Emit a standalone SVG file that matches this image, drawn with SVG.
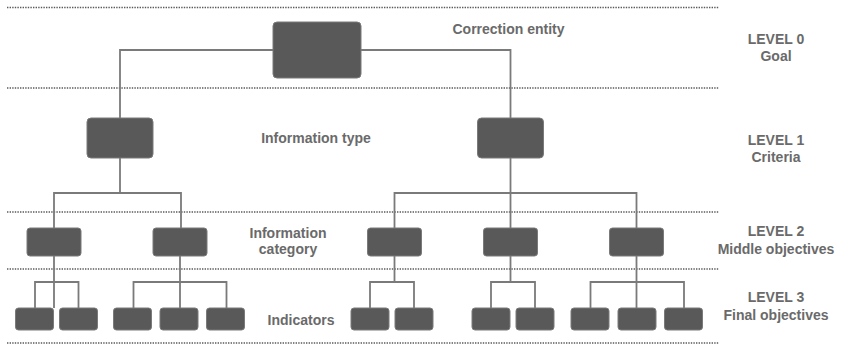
<svg xmlns="http://www.w3.org/2000/svg" width="841" height="344" viewBox="0 0 841 344">
  <style>
    .sep { stroke: #5a5a5a; stroke-width: 1.4; stroke-dasharray: 1.4 1.2; fill: none; }
    .box { fill: #595959; stroke: #7a7a7a; stroke-width: 1; }
    .wire { stroke: #7a7a7a; stroke-width: 1.8; fill: none; }
    .lbl { font-family: "Liberation Sans", Arial, sans-serif; font-size: 14px; font-weight: bold; fill: #6a6a6a; text-anchor: middle; }
  </style>

  <!-- level separators -->
  <g id="separators">
    <line class="sep" x1="7" y1="7.5" x2="719" y2="7.5"/>
    <line class="sep" x1="7" y1="88" x2="719" y2="88"/>
    <line class="sep" x1="7" y1="212" x2="719" y2="212"/>
    <line class="sep" x1="7" y1="269" x2="719" y2="269"/>
    <line class="sep" x1="7" y1="343" x2="719" y2="343"/>
  </g>

  <!-- tree connectors -->
  <g id="connectors">
    <path class="wire" d="M120,118 V50 H510.5 V118"/>
    <path class="wire" d="M120,158 V193"/>
    <path class="wire" d="M54,228 V193 H181 V228"/>
    <path class="wire" d="M510.5,158 V228"/>
    <path class="wire" d="M394.5,228 V193 H636.5 V228"/>
    <path class="wire" d="M54,256 V308 M35,308 V282 H78.5 V308"/>
    <path class="wire" d="M180,256 V308 M133.5,308 V282 H226.5 V308"/>
    <path class="wire" d="M394.5,256 V282 M370,308 V282 H414 V308"/>
    <path class="wire" d="M510.5,256 V282 M491,308 V282 H535 V308"/>
    <path class="wire" d="M636.5,256 V308 M590.5,308 V282 H684 V308"/>
  </g>

  <!-- level 0 -->
  <g id="goal"><rect class="box" x="273" y="22" width="88" height="56" rx="4"/></g>

  <!-- level 1 -->
  <g id="criterion-1"><rect class="box" x="87" y="118" width="66" height="40" rx="4"/></g>
  <g id="criterion-2"><rect class="box" x="477.5" y="118" width="66" height="40" rx="4"/></g>

  <!-- level 2 -->
  <g id="middle-1"><rect class="box" x="27" y="228" width="54" height="28" rx="3"/></g>
  <g id="middle-2"><rect class="box" x="153" y="228" width="54" height="28" rx="3"/></g>
  <g id="middle-3"><rect class="box" x="367.5" y="228" width="54" height="28" rx="3"/></g>
  <g id="middle-4"><rect class="box" x="483.5" y="228" width="54" height="28" rx="3"/></g>
  <g id="middle-5"><rect class="box" x="609.5" y="228" width="54" height="28" rx="3"/></g>

  <!-- level 3 -->
  <g id="final-1"><rect class="box" x="15.5" y="308" width="38" height="22" rx="3"/></g>
  <g id="final-2"><rect class="box" x="59.5" y="308" width="38" height="22" rx="3"/></g>
  <g id="final-3"><rect class="box" x="113.5" y="308" width="38" height="22" rx="3"/></g>
  <g id="final-4"><rect class="box" x="160" y="308" width="38" height="22" rx="3"/></g>
  <g id="final-5"><rect class="box" x="206.5" y="308" width="38" height="22" rx="3"/></g>
  <g id="final-6"><rect class="box" x="351" y="308" width="38" height="22" rx="3"/></g>
  <g id="final-7"><rect class="box" x="395" y="308" width="38" height="22" rx="3"/></g>
  <g id="final-8"><rect class="box" x="472" y="308" width="38" height="22" rx="3"/></g>
  <g id="final-9"><rect class="box" x="516" y="308" width="38" height="22" rx="3"/></g>
  <g id="final-10"><rect class="box" x="571" y="308" width="38" height="22" rx="3"/></g>
  <g id="final-11"><rect class="box" x="618" y="308" width="38" height="22" rx="3"/></g>
  <g id="final-12"><rect class="box" x="664.5" y="308" width="38" height="22" rx="3"/></g>

  <!-- row captions -->
  <g id="captions">
    <text class="lbl" x="508.5" y="34">Correction entity</text>
    <text class="lbl" x="316" y="143">Information type</text>
    <text class="lbl" x="288" y="237.5">Information</text>
    <text class="lbl" x="288" y="254">category</text>
    <text class="lbl" x="301" y="324.5">Indicators</text>
  </g>

  <!-- level names -->
  <g id="levels">
    <text class="lbl" x="776" y="43.5">LEVEL 0</text>
    <text class="lbl" x="776" y="61">Goal</text>
    <text class="lbl" x="776" y="144.5">LEVEL 1</text>
    <text class="lbl" x="776" y="162">Criteria</text>
    <text class="lbl" x="776" y="236">LEVEL 2</text>
    <text class="lbl" x="776" y="253.5">Middle objectives</text>
    <text class="lbl" x="776" y="302">LEVEL 3</text>
    <text class="lbl" x="776" y="319.5">Final objectives</text>
  </g>
</svg>
